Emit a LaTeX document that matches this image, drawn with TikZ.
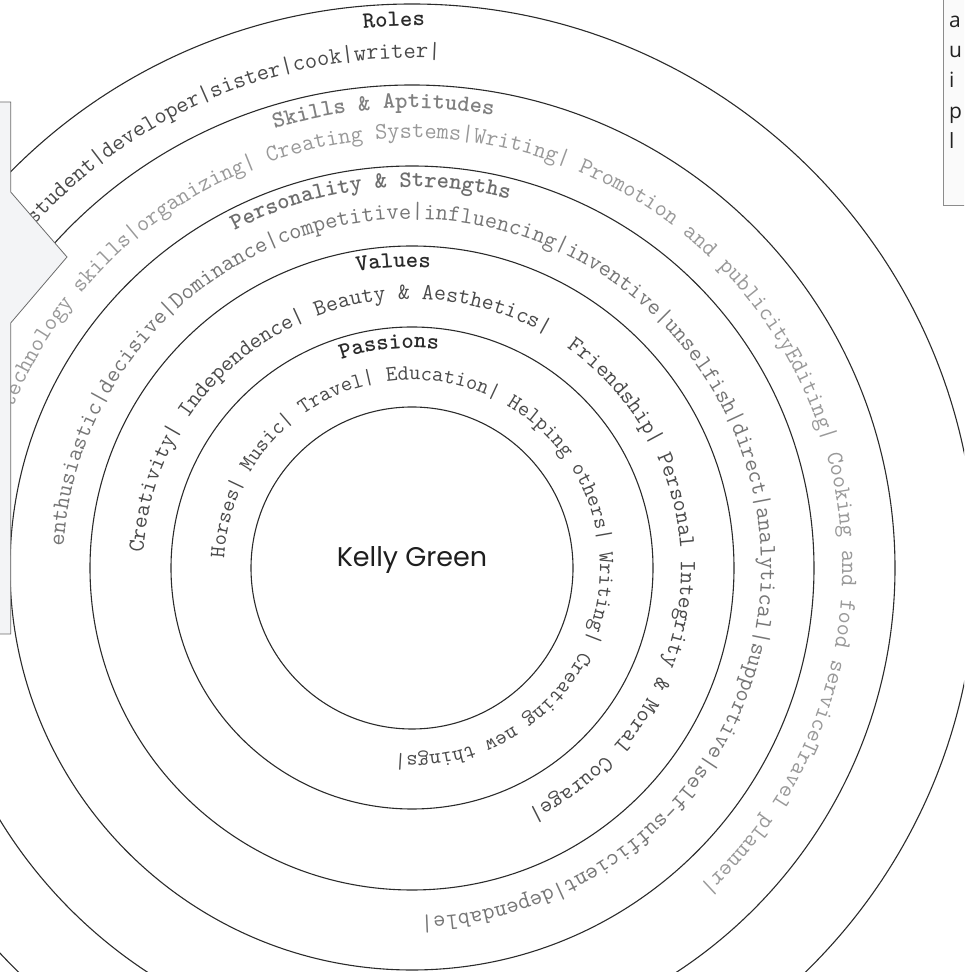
\documentclass[tikz,border=0pt]{standalone}
\usepackage{fontspec}
\usetikzlibrary{decorations.text}
\newfontfamily\namefont{Poppins}
\newfontfamily\notefont{Open Sans}
\definecolor{rimline}{HTML}{2B2B2B}
\definecolor{panelfill}{HTML}{F3F4F6}
\definecolor{panelline}{HTML}{6B6B6B}
\definecolor{notefill}{HTML}{FAFAFA}
\definecolor{noteline}{HTML}{8C8C8C}
\definecolor{notetext}{HTML}{222222}
\definecolor{namecolor}{HTML}{1E1E1E}
\definecolor{titledark}{HTML}{2A2A2A}
\definecolor{titlegray}{HTML}{808080}
\definecolor{itemdark}{HTML}{4A4A4A}
\definecolor{itemmid}{HTML}{767676}
\definecolor{itemlight}{HTML}{999999}
\newcommand\ringsize[1]{\ttfamily\fontsize{#1}{#1}\selectfont}

\begin{document}
\begin{tikzpicture}[x=1pt, y=1pt,
  ring/.style={circle, draw=rimline, line width=1.1pt, minimum size=#1, inner sep=0pt},
  ringfont/.style={execute at begin scope={\ringsize{#1}}},
  titlefont/.style={execute at begin scope={\ringsize{#1}\bfseries}},
  ringtitle/.style 2 args={decorate, decoration={text along path, text align=center, text color=#1, text={#2}}},
  ringitems/.style 2 args={decorate, decoration={text along path, text align=left, text color=#1, text={#2}}},
  panel/.style={fill=panelfill, draw=panelline, line width=0.8pt},
  notebox/.style={fill=notefill, draw=noteline, line width=0.8pt},
  note/.style={font=\notefont\fontsize{21}{25}\selectfont, text=notetext, anchor=base west, inner sep=0pt}
]
\useasboundingbox (0,0) rectangle (964,972);
\clip (0,0) rectangle (964,972);
\coordinate (c) at (412,404);

% rings, outside in
\node[ring=1128] (roles) at (c) {};
\node[ring=966] (skills) at (c) {};
\node[ring=804] (traits) at (c) {};
\node[ring=644] (values) at (c) {};
\node[ring=482] (passions) at (c) {};
\node[ring=322] (core) at (c) {};
\node[font=\namefont\fontsize{27}{27}\selectfont, text=namecolor, anchor=base] (name) at ([yshift=1]core.center) {Kelly Green};

% ring titles
\begin{scope}[titlefont=23.4]
\path[ringtitle={titledark}{Roles}] ([shift={(136.9:542)}]c) arc[start angle=136.9, end angle=46.9, radius=542];
\path[ringtitle={titlegray}{Skills {\&} Aptitudes}] ([shift={(138.6:460)}]c) arc[start angle=138.6, end angle=48.6, radius=460];
\path[ringtitle={titlegray!85!black}{Personality {\&} Strengths}] ([shift={(141.5:381)}]c) arc[start angle=141.5, end angle=51.5, radius=381];
\path[ringtitle={titledark}{Values}] ([shift={(138.5:301)}]c) arc[start angle=138.5, end angle=48.5, radius=301];
\path[ringtitle={titledark}{Passions}] ([shift={(140.9:220)}]c) arc[start angle=140.9, end angle=50.9, radius=220];
\end{scope}

% ring contents, clockwise
\begin{scope}[ringfont=23.8]
\path[ringitems={itemdark}{student{|}developer{|}sister{|}cook{|}writer{|}}]
  ([shift={(137.8:510)}]c) arc[start angle=137.8, end angle=79.5, radius=510];
\end{scope}
\begin{scope}[ringfont=23.65]
\path[ringitems={itemlight}{technology skills{|}organizing{|} Creating Systems{|}Writing{|} Promotion and publicityEditing{|} Cooking and food serviceTravel planner{|}}]
  ([shift={(158.2:430)}]c) arc[start angle=158.2, end angle=-64, radius=430];
\end{scope}
\begin{scope}[ringfont=23.75]
\path[ringitems={itemmid}{enthusiastic{|}decisive{|}Dominance{|}competitive{|}influencing{|}inventive{|}unselfish{|}direct{|}analytical{|}supportive{|}self-sufficient{|}dependable{|}}]
  ([shift={(176.5:349)}]c) arc[start angle=176.5, end angle=-105.5, radius=349];
\end{scope}
\begin{scope}[ringfont=23.15]
\path[ringitems={itemdark}{Creativity{|} Independence{|} Beauty {\&} Aesthetics{|}{\ } Friendship{|} Personal Integrity {\&} Moral Courage{|}}]
  ([shift={(176.8:269)}]c) arc[start angle=176.8, end angle=-79, radius=269];
\end{scope}
\begin{scope}[ringfont=21.95]
\path[ringitems={itemdark}{Horses{|} Music{|} Travel{|} Education{|} Helping others{|} Writing{|} Creating new things{|}}]
  ([shift={(177:188)}]c) arc[start angle=177, end angle=-111, radius=188];
\end{scope}

% side panels
\draw[panel] (-10,870) -- (10.7,870) -- (10.7,780) -- (67,715) -- (10.7,649) -- (10.7,338) -- (-10,338) -- cycle;
\draw[notebox] (943,767) rectangle (990,990);
\foreach \ch [count=\i] in {a,u,i,p,l}
  \node[note] (note\i) at (949,975-30.3*\i) {\ch};
\end{tikzpicture}
\end{document}
